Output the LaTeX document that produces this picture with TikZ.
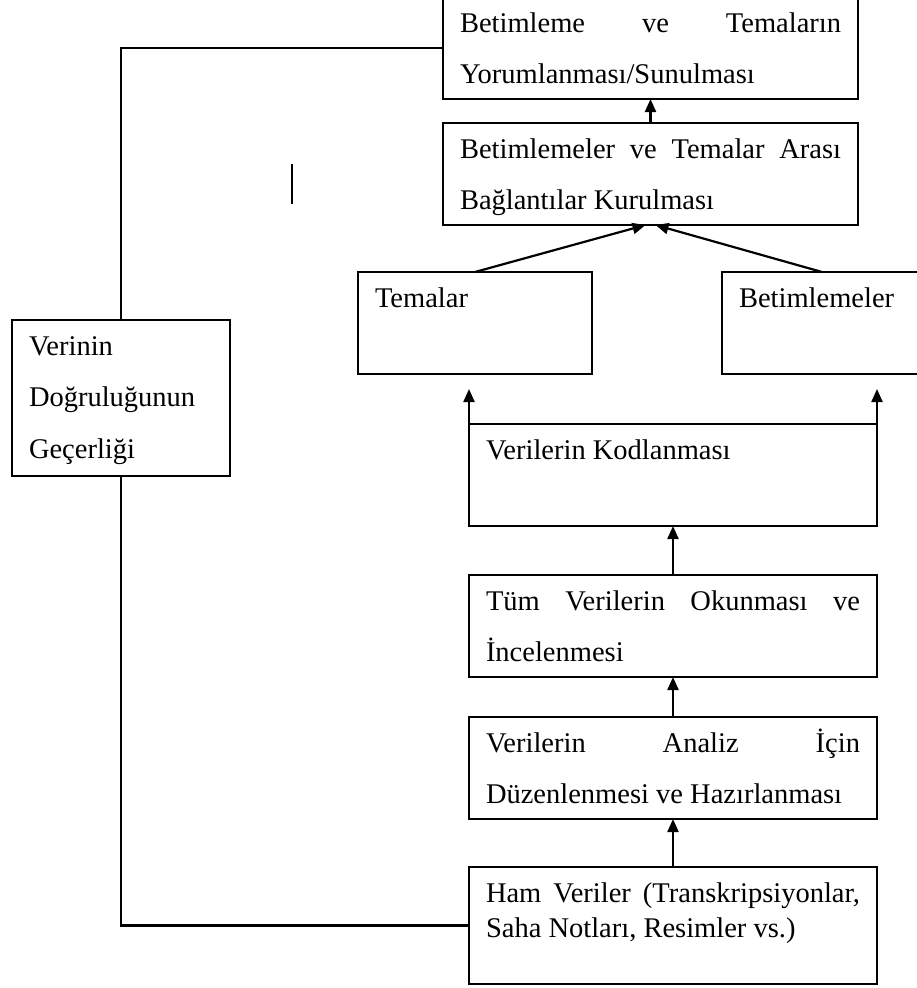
\documentclass[tikz,border=0pt]{standalone}
\usepackage{fontspec}
\setmainfont{Liberation Serif}
\usetikzlibrary{arrows.meta}
\hyphenpenalty=10000
\exhyphenpenalty=10000

\begin{document}
\begin{tikzpicture}[x=1pt, y=-1pt,
    stagebox/.style={draw, line width=2.2pt, anchor=north west, outer sep=0pt,
      inner xsep=17pt, inner ysep=0pt, text height=35pt, text depth=67pt,
      align=justify, font=\fontsize{28.5}{51.5}\selectfont},
    wide/.style={text width=374pt},
    link/.style={line width=2.2pt},
    flow/.style={line width=2.2pt, -{Triangle[length=13pt,width=11pt]}}]
    \useasboundingbox (0,0) rectangle (917,988);
    \clip (0,0) rectangle (917,988);
    % top of the chain
    \node[stagebox, text width=381pt] (yorum) at (443,-3)
      {Betimleme ve Temaların\linebreak Yorumlanması/Sunulması};
    \node[stagebox, text width=381pt] (baglanti) at (443,123)
      {Betimlemeler ve Temalar Arası\linebreak Bağlantılar Kurulması};
    \node[stagebox, text width=200pt] (temalar) at (358,272) {Temalar};
    \node[stagebox, text width=166pt] (betim) at (722,272) {Betimlemeler};
    % data steps
    \node[stagebox, wide] (kod) at (469,424) {Verilerin Kodlanması};
    \node[stagebox, wide] (tum) at (469,575)
      {Tüm Verilerin Okunması ve\linebreak İncelenmesi};
    \node[stagebox, wide] (duzen) at (469,717)
      {Verilerin Analiz İçin\linebreak Düzenlenmesi ve Hazırlanması};
    \node[stagebox, wide, text depth=82pt, font=\fontsize{28.5}{35}\selectfont] (ham) at (469,867)
      {Ham Veriler (Transkripsiyonlar,\linebreak Saha Notları, Resimler vs.)};
    % validity box on the left
    \node[stagebox, text width=184pt, text depth=121pt, align=left] (verinin) at (12,320)
      {Verinin\\Doğruluğunun\\Geçerliği};
    \coordinate (kodL) at ([yshift=35pt]kod.north west);
    \coordinate (kodR) at ([yshift=35pt]kod.north east);
    % arrows
    \draw[flow] (baglanti.north) -- (yorum.south);
    \draw[flow] (temalar.north) -- ([xshift=-5pt]baglanti.south);
    \draw[flow] (betim.north) -- ([xshift=5pt]baglanti.south);
    \draw[flow] (kod.north west) -- (kodL);
    \draw[flow] (kod.north east) -- (kodR);
    \draw[flow] (tum.north) -- (kod.south);
    \draw[flow] (duzen.north) -- (tum.south);
    \draw[flow] (ham.north) -- (duzen.south);
    % left loop
    \draw[link] (yorum.west) -| (verinin.north);
    \draw[link] (verinin.south) |- (ham.west);
    % stray mark
    \draw[line width=2.5pt] (292,164) -- (292,204);
\end{tikzpicture}
\end{document}
